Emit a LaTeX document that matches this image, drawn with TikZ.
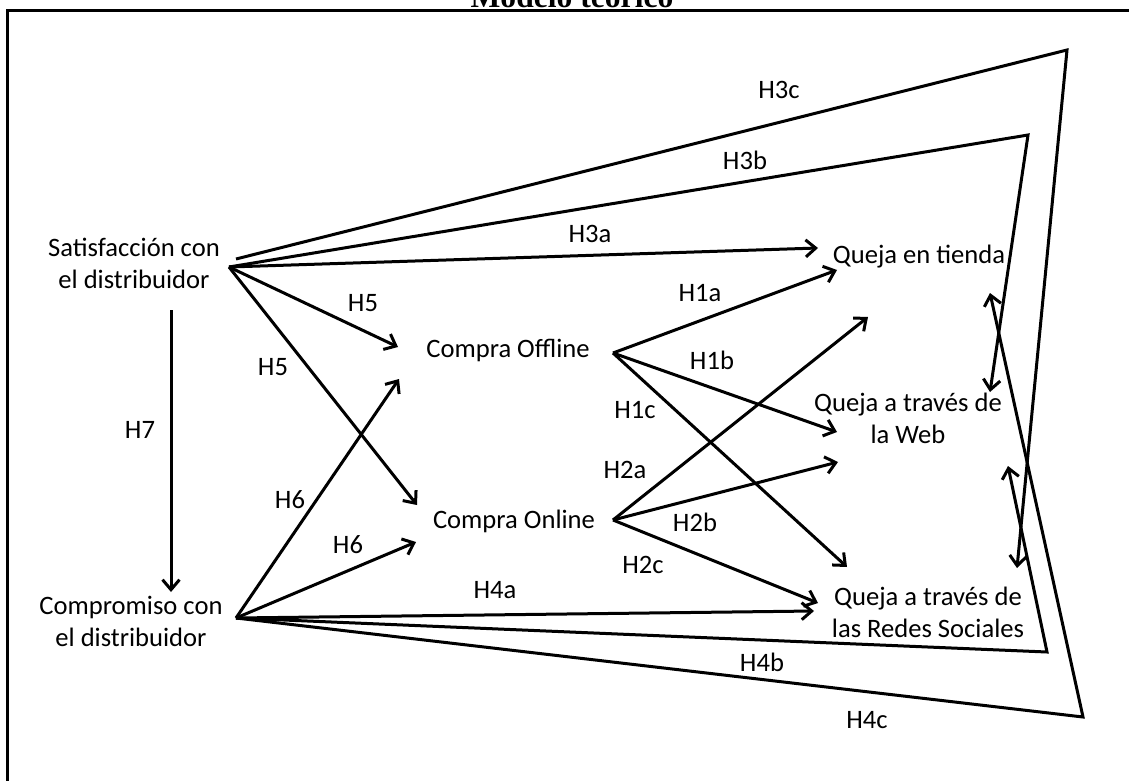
\documentclass[tikz,border=0pt]{standalone}
\usepackage{fontspec}
\setmainfont{Carlito}
\newfontfamily\titlefont{Liberation Serif}
\usetikzlibrary{arrows.meta}

\begin{document}
\begin{tikzpicture}[x=0.5pt, y=-0.5pt,
  every node/.style={font=\fontsize{13.3}{16}\selectfont, inner sep=0pt},
  box/.style={align=center, anchor=base},
  hyp/.style={line width=1.5pt, -{Straight Barb[length=5pt,width=8.5pt]}}]
  \useasboundingbox (0,0) rectangle (1129,781);
  \clip (0,0) rectangle (1129,781);
  \draw[line width=1.5pt] (7,11) rectangle (1160,810);
  \node[anchor=base, font=\titlefont\fontsize{15.8}{18}\selectfont\bfseries] (titulo) at (572,8) {Modelo teórico};

  % constructos
  \node[box] (sat) at (134,288) {Satisfacción con\\el distribuidor};
  \node[box] (comp) at (131,646) {Compromiso con\\el distribuidor};
  \node[box] (off) at (508,357) {Compra Offline};
  \node[box] (on) at (514,528) {Compra Online};
  \node[box] (tienda) at (919,263) {Queja en tienda};
  \node[box] (web) at (908,443) {Queja a través de\\la Web};
  \node[box] (redes) at (928,637) {Queja a través de\\las Redes Sociales};

  % puntos de salida y llegada
  \coordinate (sat-o) at (229,267);
  \coordinate (sat-c) at (236,259);
  \coordinate (sat-s) at (171,310);
  \coordinate (comp-o) at (236,618);
  \coordinate (comp-n) at (171,592);
  \coordinate (off-o) at (613,353);
  \coordinate (on-o) at (613,520);
  \coordinate (off-a) at (398,347);
  \coordinate (off-b) at (399,379);
  \coordinate (on-a) at (417,505);
  \coordinate (on-b) at (416,542);
  \coordinate (tienda-a) at (818,248);
  \coordinate (tienda-b) at (837,270);
  \coordinate (tienda-c) at (868,317);
  \coordinate (tienda-r) at (990,293);
  \coordinate (web-a) at (837,432);
  \coordinate (web-b) at (838,462);
  \coordinate (web-r1) at (990,392);
  \coordinate (web-r2) at (1008,466);
  \coordinate (redes-a) at (847,567);
  \coordinate (redes-b) at (818,603);
  \coordinate (redes-c) at (814,611);
  \coordinate (redes-r) at (1017,568);
  \coordinate (k3c) at (1067,50);
  \coordinate (k3b) at (1028,135);
  \coordinate (k4b) at (1047,652);
  \coordinate (k4c) at (1083,717);

  \foreach \a/\b in {sat-o/tienda-a, sat-o/off-a, sat-o/on-a, comp-o/off-b,
      comp-o/on-b, comp-o/redes-c, off-o/tienda-b, off-o/web-a, off-o/redes-a,
      on-o/tienda-c, on-o/web-b, on-o/redes-b, sat-s/comp-n}
    \draw[hyp] (\a) -- (\b);
  \draw[hyp] (sat-c) -- (k3c) -- (redes-r);
  \draw[hyp] (sat-o) -- (k3b) -- (web-r1);
  \draw[hyp] (comp-o) -- (k4b) -- (web-r2);
  \draw[hyp] (comp-o) -- (k4c) -- (tienda-r);

  % hipotesis
  \foreach \n/\t/\x/\y in {1/H3c/779/90, 2/H3b/745/160, 3/H3a/590/234,
      4/H5/363/303, 5/H5/273/367, 6/H7/140/430, 7/H6/290/500, 8/H6/348/545,
      9/H1a/700/293, 10/H1b/712/360, 11/H1c/635/410, 12/H2a/625/470,
      13/H2b/695/522, 14/H2c/643/565, 15/H4a/495/590, 16/H4b/762/662,
      17/H4c/867/720}
    \node (h\n) at (\x,\y) {\t};
\end{tikzpicture}
\end{document}
